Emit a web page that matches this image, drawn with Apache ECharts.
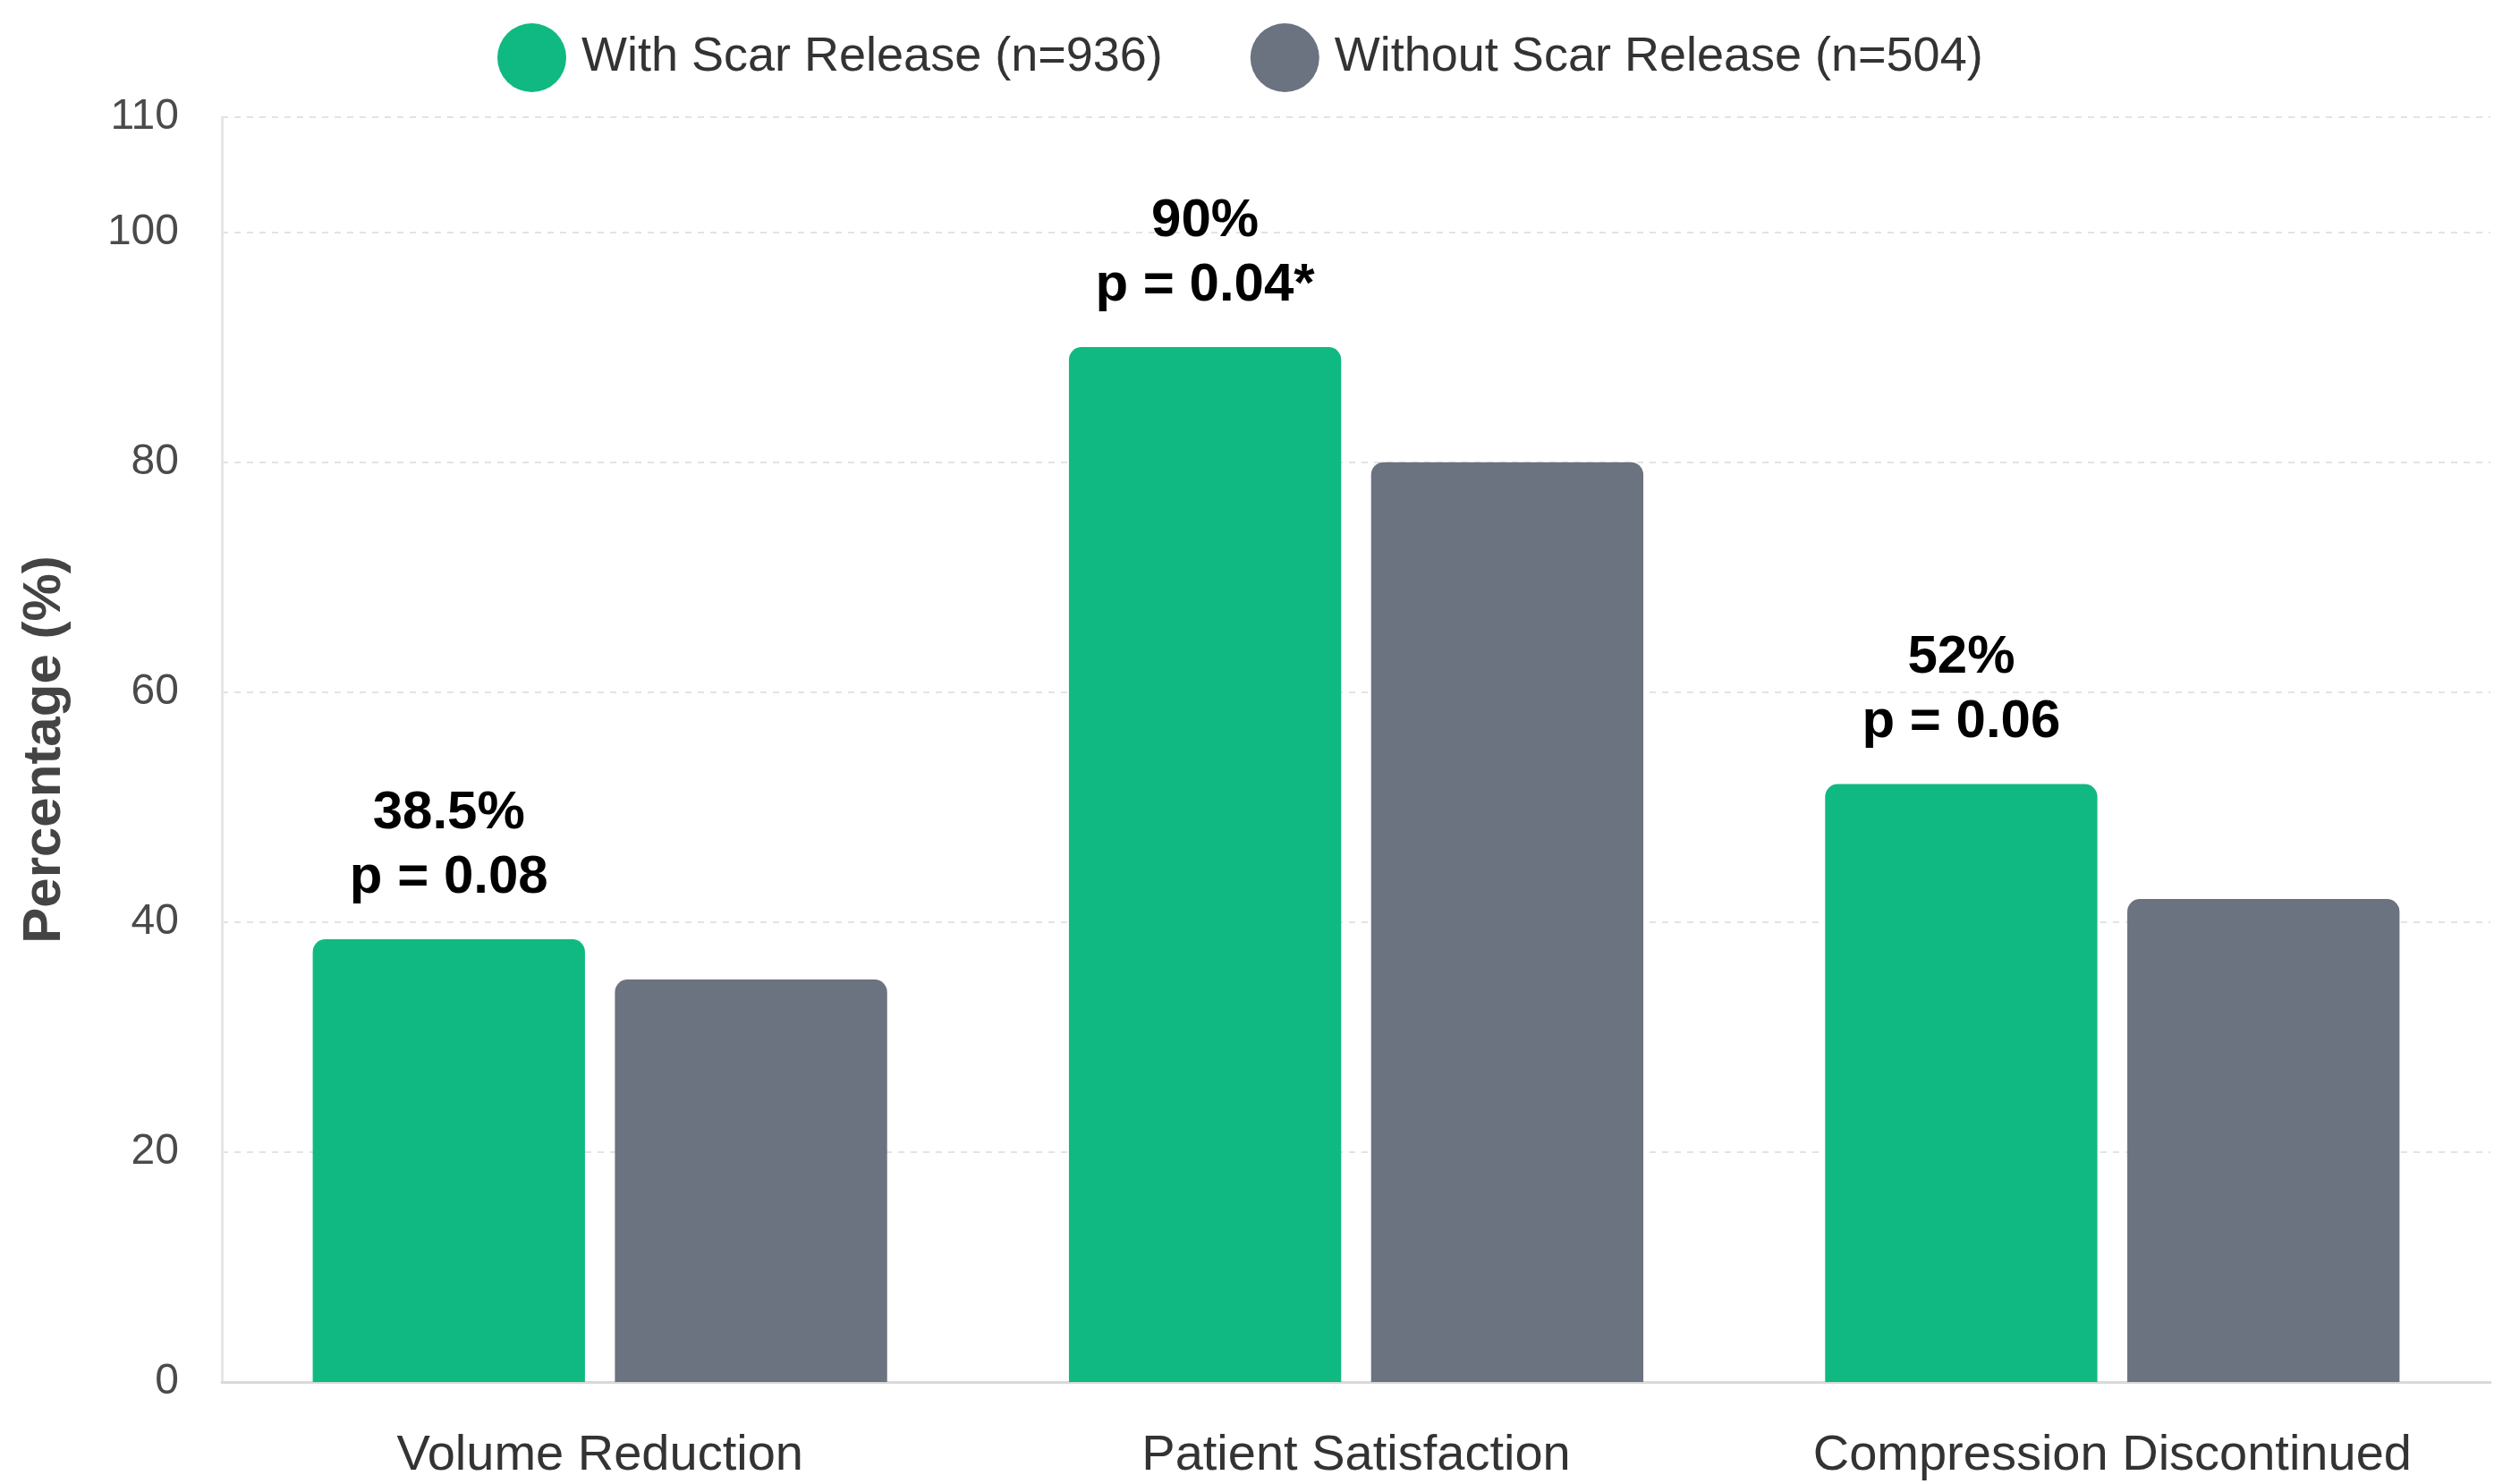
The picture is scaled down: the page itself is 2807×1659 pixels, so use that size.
<!DOCTYPE html>
<html>
<head>
<meta charset="utf-8">
<script src="https://cdn.jsdelivr.net/npm/echarts@6/dist/echarts.min.js"></script>
<style>
html,body{margin:0;padding:0;background:#fff;}
#chart{width:2807px;height:1659px;}
</style>
</head>
<body>
<div id="chart"></div>
<script>
const categories = ['Volume Reduction', 'Patient Satisfaction', 'Compression Discontinued'];
const seriesNames = ['With Scar Release (n=936)', 'Without Scar Release (n=504)'];
const withRelease = [38.5, 90, 52];
const withoutRelease = [35, 80, 42];
const pValues = ['p = 0.08', 'p = 0.04*', 'p = 0.06'];
const valueLabels = ['38.5%', '90%', '52%'];

const FONT = '"Liberation Sans", Arial, Helvetica, sans-serif';
const chart = echarts.init(document.getElementById('chart'));
chart.setOption({
  backgroundColor: '#ffffff',
  animation: false,
  textStyle: { fontFamily: FONT },
  legend: {
    top: 21,
    left: 551,
    icon: 'circle',
    itemWidth: 77,
    itemHeight: 77,
    itemGap: 98,
    textStyle: { fontSize: 54, color: '#333333', fontFamily: FONT, padding: [0, 0, 0, 12] },
    data: seriesNames
  },
  grid: { left: 248, right: 23, top: 131, bottom: 114, containLabel: false },
  xAxis: {
    type: 'category',
    data: categories,
    axisLine: { show: true, lineStyle: { color: '#d9d9d9', width: 3 } },
    axisTick: { show: false },
    axisLabel: { interval: 0, hideOverlap: false, fontSize: 56, color: '#333333', margin: 55, fontFamily: FONT }
  },
  yAxis: {
    type: 'value',
    min: 0,
    max: 110,
    interval: 20,
    name: 'Percentage (%)',
    nameLocation: 'middle',
    nameGap: 168,
    nameTextStyle: { fontSize: 60, fontWeight: 'bold', color: '#444444', fontFamily: FONT },
    axisLine: { show: true, lineStyle: { color: '#e6e6e6', width: 3 } },
    axisTick: { show: false },
    axisLabel: { fontSize: 48, color: '#4a4a4a', margin: 48, fontFamily: FONT },
    splitLine: { show: true, lineStyle: { color: '#e3e3e3', width: 2, type: [7, 7] } }
  },
  series: [
    {
      name: seriesNames[0],
      type: 'bar',
      data: withRelease,
      barWidth: '36%',
      barGap: '11%',
      itemStyle: { color: '#10b981', borderRadius: [14, 14, 0, 0] },
      label: {
        show: true,
        position: 'top',
        distance: 33,
        formatter: function (p) { return valueLabels[p.dataIndex] + '\n' + pValues[p.dataIndex]; },
        fontSize: 60,
        fontWeight: 'bold',
        lineHeight: 72,
        color: '#000000',
        fontFamily: FONT,
        align: 'center'
      }
    },
    {
      name: seriesNames[1],
      type: 'bar',
      data: withoutRelease,
      barWidth: '36%',
      itemStyle: { color: '#6b7280', borderRadius: [14, 14, 0, 0] }
    }
  ]
});
</script>
</body>
</html>
